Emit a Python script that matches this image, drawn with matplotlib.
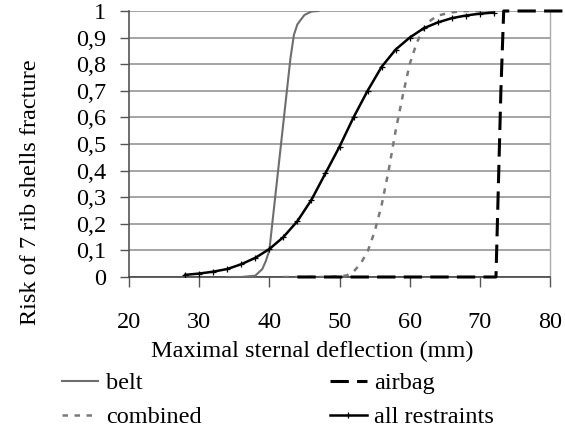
import matplotlib
matplotlib.use('Agg')
import matplotlib.pyplot as plt

plt.rcParams['font.family'] = ['Liberation Serif', 'DejaVu Serif']
plt.rcParams['font.size'] = 17.5

# risk curves
belt_x = [34, 36, 38, 39, 39.5, 40, 41, 42, 43, 43.5, 44, 45, 46, 47]
belt_y = [0, 0, 0.005, 0.03, 0.06, 0.1, 0.34, 0.58, 0.82, 0.91, 0.95, 0.985, 0.998, 1.0]

airbag_x = [44, 72.3, 72.6, 73.0, 73.4, 82.3]
airbag_y = [0, 0, 0.3, 0.7, 1.0, 1.0]

combined_x = [42, 48, 50, 51, 52, 53, 54, 55, 56, 57, 58, 59, 60, 61, 62, 63, 64, 66, 68, 72]
combined_y = [0, 0, 0.002, 0.006, 0.02, 0.05, 0.095, 0.17, 0.27, 0.4, 0.55, 0.68, 0.8, 0.88, 0.935, 0.965, 0.983, 0.995, 1.0, 1.0]

all_x = [28, 30, 32, 34, 36, 38, 40, 42, 44, 46, 48, 50, 52, 54, 56, 58, 60, 62, 64, 66, 68, 70, 72]
all_y = [0.008, 0.013, 0.02, 0.03, 0.048, 0.072, 0.105, 0.15, 0.21, 0.29, 0.39, 0.49, 0.6, 0.7,
         0.79, 0.855, 0.9, 0.935, 0.957, 0.973, 0.983, 0.99, 0.994]

yticks = [0, 0.1, 0.2, 0.3, 0.4, 0.5, 0.6, 0.7, 0.8, 0.9, 1]
ytick_labels = ['0', '0,1', '0,2', '0,3', '0,4', '0,5', '0,6', '0,7', '0,8', '0,9', '1']
xticks = [20, 30, 40, 50, 60, 70, 80]

fig = plt.figure(figsize=(5.65, 4.33), dpi=100)
ax = fig.add_axes([129/565, 1 - 277/433, 421/565, 266/433])

for v in yticks:
    ax.axhline(v, color='#8c8c8c', lw=1.1, zorder=1)

l1, = ax.plot(belt_x, belt_y, color='#6e6e6e', lw=1.5, label='belt', zorder=3)
l3, = ax.plot(combined_x, combined_y, color='#7a7a7a', lw=1.8, dashes=(2.2, 2.6), label='combined', zorder=3)
l2, = ax.plot(airbag_x, airbag_y, color='black', lw=2.2, dashes=(6, 2.7), label='airbag',
              clip_on=False, zorder=4)
l4, = ax.plot(all_x, all_y, color='black', lw=1.8, marker='+', ms=5, mew=0.9,
              label='all restraints', zorder=5)

ax.set_xlim(20, 80)
ax.set_ylim(0, 1)
ax.set_xticks(xticks)
ax.set_yticks(yticks)
ax.set_yticklabels(ytick_labels)

ax.spines['top'].set_visible(False)
ax.spines['right'].set_color('#aaaaaa')
ax.spines['right'].set_linewidth(1.0)
ax.spines['left'].set_color('#555555')
ax.spines['left'].set_linewidth(1.2)
ax.spines['bottom'].set_color('#444444')
ax.spines['bottom'].set_linewidth(1.2)

ax.tick_params(axis='x', direction='out', length=7, width=1.0, color='#555555', pad=18)
ax.tick_params(axis='y', direction='out', length=6.5, width=1.0, color='#555555', pad=10)

ax.set_ylabel('Risk of 7 rib shells fracture')
ax.yaxis.set_label_coords(-0.21, 0.32)
ax.set_xlabel('Maximal sternal deflection (mm)')
ax.xaxis.set_label_coords(0.435, -0.24)

fig.legend(handles=[l1, l3, l2, l4], ncol=2, loc='upper left',
           bbox_to_anchor=(62/565, 1 - 372/433), frameon=False,
           borderpad=0, borderaxespad=0, handlelength=1.5, handletextpad=0.3,
           columnspacing=5.3, labelspacing=0.5)

fig.savefig('out.png', dpi=100)
